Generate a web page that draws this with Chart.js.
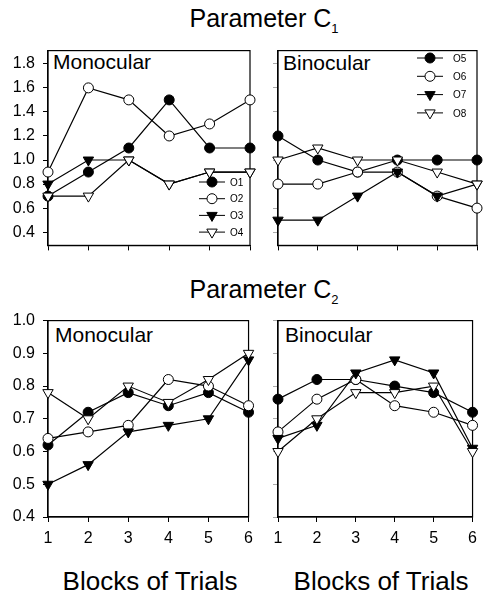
<!DOCTYPE html>
<html>
<head>
<meta charset="utf-8">
<script src="https://cdn.jsdelivr.net/npm/chart.js@4.4.0/dist/chart.umd.min.js"></script>
<style>
  body { margin: 0; background: #fff; width: 484px; height: 596px; position: relative; overflow: hidden; font-family: Arial, "Liberation Sans", sans-serif; color: #000; }
  canvas { position: absolute; }
  .txt { position: absolute; white-space: nowrap; line-height: 1; }
  .title { font-size: 25px; transform: translateX(-50%); }
  .title span { font-size: 13px; position: relative; top: 6px; }
  .panel { font-size: 21px; }
  .axis { font-size: 26px; transform: translateX(-50%); }
</style>
</head>
<body>
<div class="txt title" style="left:264px; top:6px">Parameter C<span>1</span></div>
<div class="txt title" style="left:264px; top:277px">Parameter C<span>2</span></div>
<div class="txt panel" style="left:53px; top:51px">Monocular</div>
<div class="txt panel" style="left:283px; top:52px">Binocular</div>
<div class="txt panel" style="left:55px; top:324px">Monocular</div>
<div class="txt panel" style="left:285px; top:324px">Binocular</div>
<div class="txt axis" style="left:150px; top:568px">Blocks of Trials</div>
<div class="txt axis" style="left:381px; top:568px">Blocks of Trials</div>

<canvas id="c1Mono" width="260" height="230" style="left:0; top:33px"></canvas>
<canvas id="c1Bino" width="226" height="230" style="left:258px; top:33px"></canvas>
<canvas id="c2Mono" width="260" height="254" style="left:0; top:303px"></canvas>
<canvas id="c2Bino" width="226" height="254" style="left:258px; top:303px"></canvas>

<script>
// 데이터
const blocks = ['1', '2', '3', '4', '5', '6']
const monoLabels = ['O1', 'O2', 'O3', 'O4']
const binoLabels = ['O5', 'O6', 'O7', 'O8']
const c1Ticks = [0.4, 0.6, 0.8, 1.0, 1.2, 1.4, 1.6, 1.8]
const c2Ticks = [0.4, 0.5, 0.6, 0.7, 0.8, 0.9, 1.0]

const c1O1 = [0.7, 0.9, 1.1, 1.5, 1.1, 1.1]
const c1O2 = [0.9, 1.6, 1.5, 1.2, 1.3, 1.5]
const c1O3 = [0.8, 1.0, 1.0, 0.8, 0.9, 0.9]
const c1O4 = [0.7, 0.7, 1.0, 0.8, 0.9, 0.9]
const c1O5 = [1.2, 1.0, 0.9, 1.0, 1.0, 1.0]
const c1O6 = [0.8, 0.8, 0.9, 0.9, 0.7, 0.6]
const c1O7 = [0.5, 0.5, 0.7, 0.9, 0.7, 0.8]
const c1O8 = [1.0, 1.1, 1.0, 1.0, 0.9, 0.8]

const c2O1 = [0.62, 0.72, 0.78, 0.74, 0.78, 0.72]
const c2O2 = [0.64, 0.66, 0.68, 0.82, 0.80, 0.74]
const c2O3 = [0.50, 0.56, 0.66, 0.68, 0.70, 0.88]
const c2O4 = [0.78, 0.70, 0.80, 0.75, 0.82, 0.90]
const c2O5 = [0.76, 0.82, 0.82, 0.80, 0.78, 0.72]
const c2O6 = [0.66, 0.76, 0.82, 0.74, 0.72, 0.68]
const c2O7 = [0.64, 0.68, 0.84, 0.88, 0.84, 0.61]
const c2O8 = [0.60, 0.70, 0.78, 0.78, 0.80, 0.60]

const markers = [
    {style: 'circle', radius: 5, rotation: 0, fill: '#000'},
    {style: 'circle', radius: 5, rotation: 0, fill: '#fff'},
    {style: 'triangle', radius: 6, rotation: 180, fill: '#000'},
    {style: 'triangle', radius: 6, rotation: 180, fill: '#fff'},
]

const makeDatasets = (labels, series) => series.map((data, i) => ({
    label: labels[i],
    data: data,
    borderColor: '#000',
    borderWidth: 1.2,
    pointStyle: markers[i].style,
    pointRadius: markers[i].radius,
    pointRotation: markers[i].rotation,
    pointBackgroundColor: markers[i].fill,
    pointBorderColor: '#000',
    pointBorderWidth: 1,
    tension: 0,
    clip: false,
    // 뒤에 있는 계열이 위로 오게
    order: series.length - i
}))

// 패널 테두리 (위, 오른쪽 포함)
const frameBox = {
    id: 'frameBox',
    beforeDatasetsDraw: chart => {
        let {ctx, chartArea} = chart
        ctx.save()
        ctx.strokeStyle = '#000'
        ctx.lineWidth = 1.2
        ctx.strokeRect(chartArea.left, chartArea.top, chartArea.right - chartArea.left, chartArea.bottom - chartArea.top)
        ctx.restore()
    }
}

// 선 + 마커 범례
const lineLegend = {
    id: 'lineLegend',
    afterDatasetsDraw: (chart, args, opts) => {
        if (opts.x === undefined) return
        let ctx = chart.ctx
        chart.data.datasets.forEach((ds, i) => {
            let y = opts.y + i * opts.gap
            ctx.save()
            ctx.strokeStyle = '#000'
            ctx.lineWidth = 1
            ctx.beginPath()
            ctx.moveTo(opts.x - 13, y)
            ctx.lineTo(opts.x + 13, y)
            ctx.stroke()
            ctx.fillStyle = ds.pointBackgroundColor
            Chart.helpers.drawPoint(ctx, {pointStyle: ds.pointStyle, radius: ds.pointRadius, rotation: ds.pointRotation, borderWidth: 1}, opts.x, y)
            ctx.fillStyle = '#000'
            ctx.font = '10px Arial, "Liberation Sans", sans-serif'
            ctx.textBaseline = 'middle'
            ctx.fillText(ds.label, opts.x + opts.textDx, y + 1)
            ctx.restore()
        })
    }
}

const makeScales = (yMin, yMax, yTicks, showYLabels, showXLabels, yWidth, xHeight, yTickColor) => ({
    x: {
        type: 'category',
        offset: false,
        grid: {drawOnChartArea: false, tickLength: 5, color: '#000', lineWidth: 1},
        border: {color: '#000', width: 1.2},
        ticks: {display: showXLabels, color: '#000', font: {size: 16, family: 'Arial, "Liberation Sans", sans-serif'}, padding: 7, maxRotation: 0, autoSkip: false},
        afterFit: s => { s.height = xHeight }
    },
    y: {
        type: 'linear',
        min: yMin,
        max: yMax,
        grid: {drawOnChartArea: false, tickLength: 5, color: yTickColor, lineWidth: 1},
        border: {color: '#000', width: 1.2},
        ticks: {color: '#000', font: {size: 16, family: 'Arial, "Liberation Sans", sans-serif'}, padding: 8, callback: v => showYLabels ? v.toFixed(1) : ''},
        afterBuildTicks: s => { s.ticks = yTicks.map(v => ({value: v})) },
        afterFit: s => { s.width = yWidth }
    }
})

const drawPanel = (id, labels, series, scales, padding, legend) => {
    new Chart(document.getElementById(id), {
        type: 'line',
        data: {labels: blocks, datasets: makeDatasets(labels, series)},
        options: {
            responsive: false,
            animation: false,
            events: [],
            layout: {padding: padding},
            scales: scales,
            plugins: {
                legend: {display: false},
                tooltip: {enabled: false},
                lineLegend: legend || {}
            }
        },
        plugins: [frameBox, lineLegend]
    })
}

drawPanel('c1Mono', monoLabels, [c1O1, c1O2, c1O3, c1O4],
    makeScales(0.29, 1.91, c1Ticks, true, false, 48, 12, '#000'),
    {top: 10, right: 10, bottom: 4, left: 0},
    {x: 212, y: 149, gap: 16.7, textDx: 18})

drawPanel('c1Bino', binoLabels, [c1O5, c1O6, c1O7, c1O8],
    makeScales(0.29, 1.91, c1Ticks, false, false, 20, 12, '#aaa'),
    {top: 10, right: 3, bottom: 4, left: 0},
    {x: 172, y: 25, gap: 18.3, textDx: 23})

drawPanel('c2Mono', monoLabels, [c2O1, c2O2, c2O3, c2O4],
    makeScales(0.4, 1.0, c2Ticks, true, true, 48, 40, '#000'),
    {top: 10, right: 10, bottom: 0, left: 0})

drawPanel('c2Bino', binoLabels, [c2O5, c2O6, c2O7, c2O8],
    makeScales(0.4, 1.0, c2Ticks, false, true, 20, 40, '#aaa'),
    {top: 10, right: 3, bottom: 0, left: 0})
</script>
</body>
</html>
